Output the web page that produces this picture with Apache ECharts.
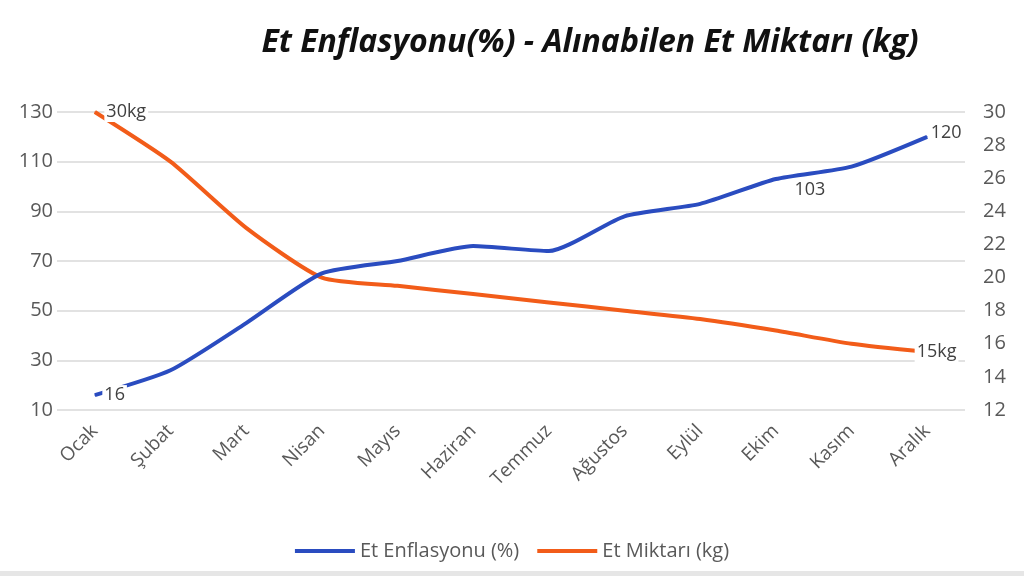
<!DOCTYPE html>
<html><head><meta charset="utf-8">
<script src="https://cdn.jsdelivr.net/npm/echarts@6/dist/echarts.min.js"></script>
<style>html,body{margin:0;padding:0;background:#fff}#c{width:1024px;height:576px}</style>
</head><body><div id="c"></div>
<script>
const categories = ['Ocak','Şubat','Mart','Nisan','Mayıs','Haziran','Temmuz','Ağustos','Eylül','Ekim','Kasım','Aralık'];
const inflation = [16,26,45,65,70,76,74,88,93,103,108,120];
const meat = [30,27,23,20,19.5,19,18.5,18,17.5,16.8,16,15.5];
const inflationLabelIdx = [0,9,11];
const meatLabelIdx = [0,11];
const leftTicks = {min:10,max:130,interval:20};
const rightTicks = {min:12,max:30,interval:2};

const font = '"Open Sans", Lato, sans-serif';
const chart = echarts.init(document.getElementById('c'));
const lblBase = {show:true,color:'#404040',fontSize:18,fontFamily:font,backgroundColor:'#fff',padding:[1,2]};
const blueOffsets = {0:[2,0],9:[34,-5],11:[-4,-4]};
const orangeOffsets = {0:[4,0],11:[-18,0]};
chart.setOption({
  animation:false,
  title:{text:'Et Enflasyonu(%) - Alınabilen Et Miktarı (kg)',left:585,textAlign:'center',top:22,
    textStyle:{fontSize:32,fontWeight:'bold',fontStyle:'italic',color:'#111',fontFamily:font}},
  grid:{left:57,right:59,top:112,bottom:166},
  legend:{bottom:10,left:'center',itemWidth:60,itemHeight:4,itemGap:18,icon:'rect',
    textStyle:{fontSize:20,color:'#595959',fontFamily:font},
    data:['Et Enflasyonu (%)','Et Miktarı (kg)']},
  xAxis:{type:'category',data:categories,boundaryGap:true,
    axisLine:{show:false},axisTick:{show:false},
    axisLabel:{rotate:45,fontSize:19,color:'#595959',fontFamily:font,margin:18}},
  yAxis:[
    {type:'value',min:leftTicks.min,max:leftTicks.max,interval:leftTicks.interval,
     axisLine:{show:false},axisTick:{show:false},
     axisLabel:{fontSize:20,color:'#595959',fontFamily:font,margin:4},
     splitLine:{lineStyle:{color:'#d9d9d9',width:1.5}}},
    {type:'value',min:rightTicks.min,max:rightTicks.max,interval:rightTicks.interval,
     axisLine:{show:false},axisTick:{show:false},
     axisLabel:{fontSize:20,color:'#595959',fontFamily:font,margin:18},
     splitLine:{show:false}}
  ],
  series:[
    {name:'Et Enflasyonu (%)',type:'line',smooth:0.2,yAxisIndex:0,
     data:inflation.map((v,i)=>{
        const d={value:v};
        if(inflationLabelIdx.includes(i)){
          d.label=Object.assign({},lblBase,{position:i===9?'bottom':'right',
            formatter:'{c}',offset:blueOffsets[i]});
        }
        return d;}),
     symbol:'circle',symbolSize:1,showSymbol:true,
     lineStyle:{width:4,color:'#2a4cc0'},itemStyle:{color:'#2a4cc0'},z:3},
    {name:'Et Miktarı (kg)',type:'line',smooth:0.2,yAxisIndex:1,
     data:meat.map((v,i)=>{
        const d={value:v};
        if(meatLabelIdx.includes(i)){
          d.label=Object.assign({},lblBase,{position:'right',
            formatter:p=>Math.trunc(p.value)+'kg',offset:orangeOffsets[i]});
        }
        return d;}),
     symbol:'circle',symbolSize:1,showSymbol:true,
     lineStyle:{width:4,color:'#f25c19'},itemStyle:{color:'#f25c19'},z:2}
  ],
  graphic:[{type:'rect',left:0,top:571,shape:{width:1024,height:5},style:{fill:'#e6e6e6'}}]
});
</script></body></html>
